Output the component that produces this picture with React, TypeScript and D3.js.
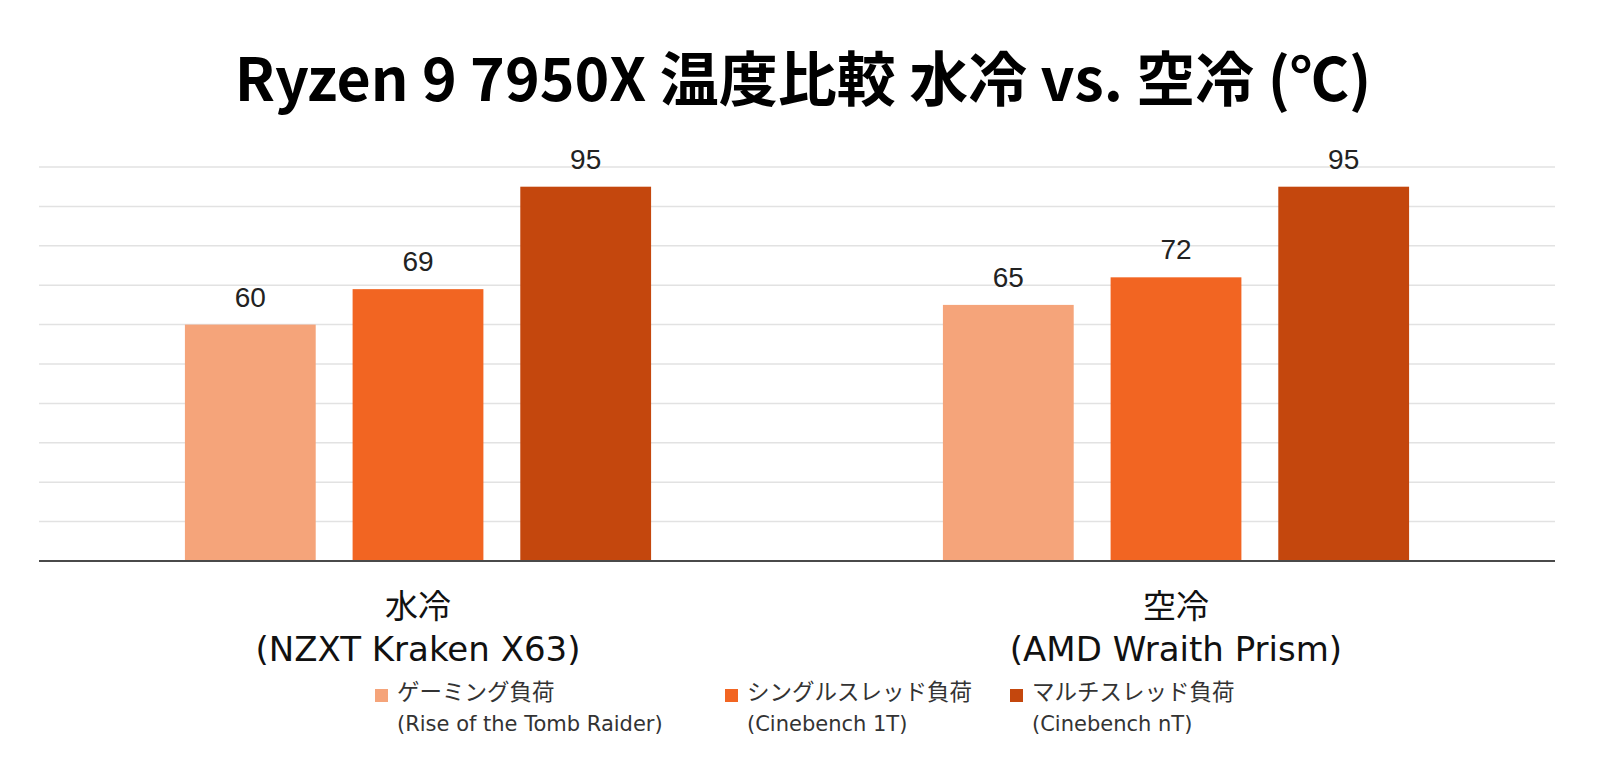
import { useEffect, useRef } from 'react';
import * as d3 from 'd3';

// groups (cooler) and series (load type)
const groups = ['water', 'air'];
const groupNames = ['水冷', '空冷'];
const groupModels = ['(NZXT Kraken X63)', '(AMD Wraith Prism)'];
const seriesKeys = ['gaming', 'single', 'multi'];
const seriesNames = ['ゲーミング負荷', 'シングルスレッド負荷', 'マルチスレッド負荷'];
const seriesSubs = ['(Rise of the Tomb Raider)', '(Cinebench 1T)', '(Cinebench nT)'];
const seriesColors = ['#F5A47A', '#F26522', '#C4470D'];

// temperatures per group, in series order
const waterValues = [60, 69, 95];
const airValues = [65, 72, 95];
const yTicks = [0, 10, 20, 30, 40, 50, 60, 70, 80, 90, 100];

const W = 1604;
const H = 768;
const CJK = '"Noto Sans CJK JP", "Noto Sans", sans-serif';
const LATIN = '"DejaVu Sans", "Noto Sans CJK JP", sans-serif';

export default function App() {
  const svgRef = useRef<SVGSVGElement>(null);

  useEffect(() => {
    if (!svgRef.current) return;
    const svg = d3.select(svgRef.current);
    svg.selectAll('*').remove();

    const left = 39;
    const right = 1555;
    const top = 167;
    const bottom = 561;

    const x0 = d3.scaleBand<string>()
      .domain(groups)
      .range([left, right])
      .paddingInner(0.385)
      .paddingOuter(0.1925);

    const x1 = d3.scaleBand<string>()
      .domain(seriesKeys)
      .range([0, x0.bandwidth()])
      .paddingInner(0.22)
      .paddingOuter(0);

    const y = d3.scaleLinear().domain([0, 100]).range([bottom, top]);

    const color = d3.scaleOrdinal<string>().domain(seriesKeys).range(seriesColors);

    // title
    svg.append('text')
      .attr('x', 803)
      .attr('y', 101)
      .attr('text-anchor', 'middle')
      .style('font-family', CJK)
      .style('font-weight', 'bold')
      .style('font-size', '59px')
      .style('fill', '#000')
      .text('Ryzen 9 7950X 温度比較 水冷 vs. 空冷 (℃)');

    // gridlines
    svg.append('g')
      .selectAll('line')
      .data(yTicks.filter(t => t > 0))
      .enter()
      .append('line')
      .attr('x1', left)
      .attr('x2', right)
      .attr('y1', d => y(d))
      .attr('y2', d => y(d))
      .attr('stroke', '#e2e2e2')
      .attr('stroke-width', 1.5);

    const rows = [waterValues, airValues];

    groups.forEach((grp, gi) => {
      const g = svg.append('g').attr('transform', `translate(${x0(grp)},0)`);
      const vals = rows[gi];

      g.selectAll('rect')
        .data(seriesKeys)
        .enter()
        .append('rect')
        .attr('x', d => x1(d) as number)
        .attr('y', (_d, i) => y(vals[i]))
        .attr('width', x1.bandwidth())
        .attr('height', (_d, i) => bottom - y(vals[i]))
        .attr('fill', d => color(d));

      g.selectAll('text.val')
        .data(seriesKeys)
        .enter()
        .append('text')
        .attr('class', 'val')
        .attr('x', d => (x1(d) as number) + x1.bandwidth() / 2)
        .attr('y', (_d, i) => y(vals[i]) - 18)
        .attr('text-anchor', 'middle')
        .style('font-family', '"Liberation Sans", Arial, sans-serif')
        .style('font-size', '28px')
        .style('fill', '#222')
        .text((_d, i) => vals[i]);

      // category label
      const cx = x0.bandwidth() / 2;
      g.append('text')
        .attr('x', cx)
        .attr('y', 618)
        .attr('text-anchor', 'middle')
        .style('font-family', CJK)
        .style('font-size', '33px')
        .style('fill', '#111')
        .text(groupNames[gi]);
      g.append('text')
        .attr('x', cx)
        .attr('y', 661)
        .attr('text-anchor', 'middle')
        .style('font-family', LATIN)
        .style('font-size', '34px')
        .style('fill', '#111')
        .text(groupModels[gi]);
    });

    // baseline
    svg.append('line')
      .attr('x1', left)
      .attr('x2', right)
      .attr('y1', y(0))
      .attr('y2', y(0))
      .attr('stroke', '#4a4a4a')
      .attr('stroke-width', 2);

    // legend
    const legendX = [375, 725, 1010];
    const legend = svg.append('g');
    seriesKeys.forEach((k, i) => {
      legend.append('rect')
        .attr('x', legendX[i])
        .attr('y', 689)
        .attr('width', 13)
        .attr('height', 13)
        .attr('fill', color(k));
      legend.append('text')
        .attr('x', legendX[i] + 22)
        .attr('y', 700)
        .style('font-family', CJK)
        .style('font-size', '22.5px')
        .style('fill', '#333')
        .text(seriesNames[i]);
      legend.append('text')
        .attr('x', legendX[i] + 22)
        .attr('y', 731)
        .style('font-family', LATIN)
        .style('font-size', '21px')
        .style('fill', '#333')
        .text(seriesSubs[i]);
    });
  }, []);

  return (
    <div style={{ position: 'absolute', left: 0, top: 0, width: W, height: H, background: '#fff' }}>
      <svg ref={svgRef} width={W} height={H} style={{ display: 'block' }} />
    </div>
  );
}
